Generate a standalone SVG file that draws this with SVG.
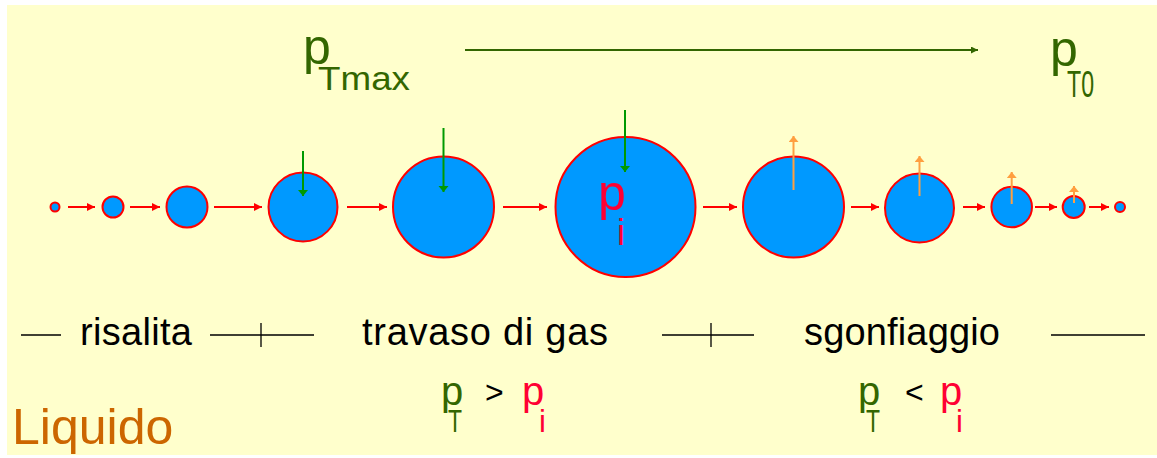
<svg xmlns="http://www.w3.org/2000/svg" width="1157" height="458" viewBox="0 0 1157 458">
<defs>
<style>
.bub{fill:#0099FF;stroke:#FF0000;stroke-width:2}
.flow{stroke:#FF0000;stroke-width:2;fill:none;marker-end:url(#mRed)}
.down{stroke:#009900;stroke-width:2;fill:none;marker-end:url(#mGreen)}
.up{stroke:#FF9F40;stroke-width:2;fill:none;marker-end:url(#mOrange)}
.sep{stroke:#000;stroke-width:1.3;fill:none}
.t{font-family:"Liberation Sans",Arial,sans-serif}
.g{fill:#336600}
.r{fill:#FF0033}
.k{fill:#000}
</style>
<marker id="mRed" markerUnits="userSpaceOnUse" markerWidth="9" markerHeight="9" refX="8" refY="4" orient="auto"><path d="M0,0 L8,4 L0,8 z" fill="#FF0000"/></marker>
<marker id="mGreen" markerUnits="userSpaceOnUse" markerWidth="10" markerHeight="11" refX="6" refY="5" orient="auto"><path d="M0,0 L6,5 L0,10 z" fill="#009900"/></marker>
<marker id="mOrange" markerUnits="userSpaceOnUse" markerWidth="10" markerHeight="11" refX="6" refY="5" orient="auto"><path d="M0,0 L6,5 L0,10 z" fill="#FF9F40"/></marker>
<marker id="mTop" markerUnits="userSpaceOnUse" markerWidth="8" markerHeight="8" refX="7" refY="3.5" orient="auto"><path d="M0,0 L7,3.5 L0,7 z" fill="#336600"/></marker>
</defs>
<rect x="7" y="5" width="1150" height="450" fill="#FFFFCC"/>

<g id="header">
<text class="t g" x="303" y="64" font-size="50">p</text>
<text class="t g" x="318" y="90" font-size="34" textLength="92" lengthAdjust="spacingAndGlyphs">Tmax</text>
<path d="M465,50 L978,50" stroke="#336600" stroke-width="2" marker-end="url(#mTop)"/>
<text class="t g" x="1050" y="66" font-size="50">p</text>
<text class="t g" x="1067" y="97" font-size="36" textLength="27" lengthAdjust="spacingAndGlyphs">T0</text>
</g>

<g id="bubble1"><circle class="bub" cx="55" cy="207" r="4.5"/></g>
<g id="bubble2"><circle class="bub" cx="113" cy="207" r="10.5"/></g>
<g id="bubble3"><circle class="bub" cx="187" cy="207" r="20.5"/></g>
<g id="bubble4"><circle class="bub" cx="303" cy="207" r="34.5"/><path class="down" d="M303,151 L303,196"/></g>
<g id="bubble5"><circle class="bub" cx="443.5" cy="207" r="50.5"/><path class="down" d="M443.5,128 L443.5,192"/></g>
<g id="bubble6"><circle class="bub" cx="625.5" cy="207" r="70"/><path class="down" d="M625,110 L625,172"/>
<text class="t r" x="598" y="210" font-size="50">p</text>
<text class="t r" x="617" y="245" font-size="36">i</text></g>
<g id="bubble7"><circle class="bub" cx="793.5" cy="207" r="50.5"/><path class="up" d="M793.5,190 L793.5,136"/></g>
<g id="bubble8"><circle class="bub" cx="919.5" cy="208" r="34.5"/><path class="up" d="M919.5,196 L919.5,156"/></g>
<g id="bubble9"><circle class="bub" cx="1011.7" cy="207" r="20.3"/><path class="up" d="M1011.7,204 L1011.7,172"/></g>
<g id="bubble10"><circle class="bub" cx="1073.7" cy="207" r="11"/><path class="up" d="M1074,203 L1074,186"/></g>
<g id="bubble11"><circle class="bub" cx="1120" cy="207" r="5"/></g>

<g id="connectors">
<path class="flow" d="M68,207 L95,207"/>
<path class="flow" d="M130,207 L160,207"/>
<path class="flow" d="M214,207 L262,207"/>
<path class="flow" d="M347,207 L387,207"/>
<path class="flow" d="M503,207 L547,207"/>
<path class="flow" d="M703,207 L737,207"/>
<path class="flow" d="M851,207 L879,207"/>
<path class="flow" d="M963,207 L985,207"/>
<path class="flow" d="M1035,207 L1057,207"/>
<path class="flow" d="M1089,207 L1109,207"/>
</g>

<g id="phases">
<path class="sep" d="M21,335 L61,335"/>
<text class="t k" x="80" y="345" font-size="38" textLength="112" lengthAdjust="spacing">risalita</text>
<path class="sep" d="M210,335 L314,335 M261,323 L261,347"/>
<text class="t k" x="362" y="345" font-size="38" textLength="246" lengthAdjust="spacing">travaso di gas</text>
<path class="sep" d="M662,335 L754,335 M711,323 L711,347"/>
<text class="t k" x="804" y="345" font-size="38" textLength="196" lengthAdjust="spacing">sgonfiaggio</text>
<path class="sep" d="M1051,335 L1145,335"/>
</g>

<g id="cond1">
<text class="t g" x="441" y="405" font-size="40">p</text>
<text class="t g" x="448" y="432" font-size="31" textLength="14" lengthAdjust="spacingAndGlyphs">T</text>
<text class="t k" x="485" y="403" font-size="32">&gt;</text>
<text class="t r" x="522" y="405" font-size="40">p</text>
<text class="t r" x="539" y="432" font-size="31">i</text>
</g>
<g id="cond2">
<text class="t g" x="858" y="405" font-size="40">p</text>
<text class="t g" x="866" y="432" font-size="31" textLength="14" lengthAdjust="spacingAndGlyphs">T</text>
<text class="t k" x="905" y="403" font-size="32">&lt;</text>
<text class="t r" x="940" y="405" font-size="40">p</text>
<text class="t r" x="956" y="432" font-size="31">i</text>
</g>

<g id="label">
<text class="t" x="12" y="444" font-size="50" fill="#CC6600">Liquido</text>
</g>
</svg>
